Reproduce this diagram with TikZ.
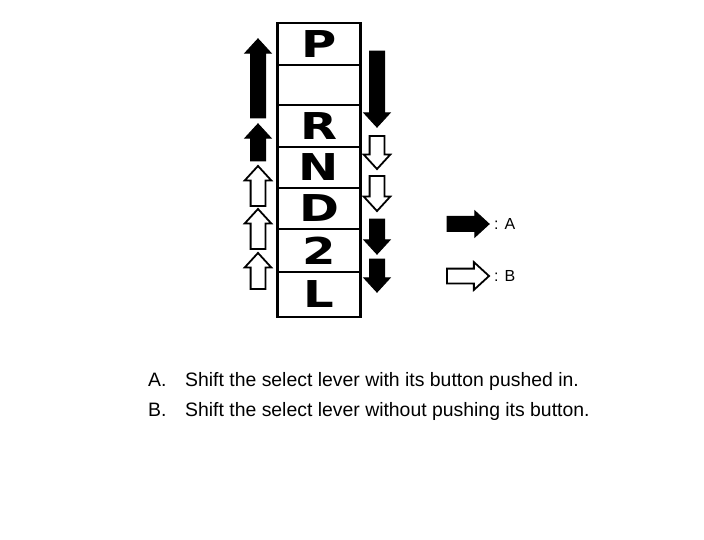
\documentclass[tikz,border=0pt]{standalone}
\usepackage{fontspec}
\setmainfont{Liberation Sans}
\newfontfamily\gearfont{DejaVu Sans}
\usetikzlibrary{positioning,shapes.arrows}

\begin{document}
\begin{tikzpicture}[x=1pt, y=-1pt,
  cell/.style={draw, line width=2.6pt, minimum width=83pt, inner sep=0pt,
    font=\gearfont\bfseries\fontsize{37}{37}\selectfont},
  blkarrow/.style={single arrow, draw, fill=black, line width=1pt, inner sep=7pt,
    single arrow head extend=5.5pt, single arrow tip angle=85, minimum height=#1},
  wtarrow/.style={single arrow, draw, fill=white, line width=1.8pt, inner sep=6.5pt,
    single arrow head extend=6pt, single arrow tip angle=85, minimum height=#1},
  legtxt/.style={font=\fontsize{16}{16}\selectfont, anchor=west, inner sep=0pt},
  note/.style={font=\fontsize{19.4}{19.4}\selectfont, anchor=base west, inner sep=0pt}
]
\useasboundingbox (0,0) rectangle (704,540);
% selector gate
\foreach \t/\b/\lbl/\nm in {23/65/P/p, 65/105/{}/e, 105/147/R/r, 147/188/N/n, 188/229/D/d, 229/272/2/two, 272/317/L/l} {
  \node[cell, minimum height={(\b-\t)*1pt}] (g\nm) at (319,{(\t+\b)/2}) {\scalebox{1.3}[1]{\lbl}};
}
% left side, moving up
\node[blkarrow=79pt, rotate=90] (u1) at (258,82.5) {};
\node[blkarrow=37pt, rotate=90] (u2) at (258,146.5) {};
\node[wtarrow=40pt, rotate=90] (u3) at (258,190) {};
\node[wtarrow=40pt, rotate=90] (u4) at (258,233) {};
\node[wtarrow=36pt, rotate=90] (u5) at (258,275) {};
% right side, moving down
\node[blkarrow=76pt, rotate=-90] (d1) at (377,85) {};
\node[wtarrow=33pt, rotate=-90] (d2) at (377,148.5) {};
\node[wtarrow=35pt, rotate=-90] (d3) at (377,189.5) {};
\node[blkarrow=35pt, rotate=-90] (d4) at (377,232.5) {};
\node[blkarrow=33pt, rotate=-90] (d5) at (377,271.5) {};
% legend
\node[blkarrow=42pt, single arrow head extend=5.5pt] (keyA) at (464,224) {};
\node[legtxt] (labA) at (494,224) {: A};
\node[wtarrow=42pt, single arrow head extend=6.5pt] (keyB) at (464,276) {};
\node[legtxt] (labB) at (494,276) {: B};
% notes
\node[note] (nA) at (148,386) {A.};
\node[note] (tA) at (185,386) {Shift the select lever with its button pushed in.};
\node[note] (nB) at (148,416) {B.};
\node[note] (tB) at (185,416) {Shift the select lever without pushing its button.};
\end{tikzpicture}
\end{document}
